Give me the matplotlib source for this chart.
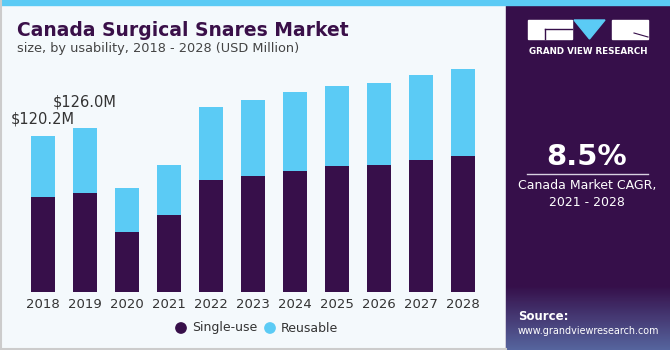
import numpy as np
import matplotlib.pyplot as plt
from matplotlib.patches import Rectangle, Polygon
from matplotlib.colors import LinearSegmentedColormap

years = ['2018', '2019', '2020', '2021', '2022', '2023', '2024', '2025', '2026', '2027', '2028']
single_use = [72.9, 76.5, 46.4, 59.3, 86.5, 89.4, 93.5, 96.8, 97.8, 101.9, 104.8]
totals = [120.2, 126.0, 80.1, 98.1, 142.8, 148.2, 153.8, 158.7, 160.7, 167.4, 171.5]
reusable = [t - s for t, s in zip(totals, single_use)]
labels = {0: '$120.2M', 1: '$126.0M'}

dark = '#370F4A'
cyan = '#5BCBF5'
bg = '#F4F9FC'

W, H = 670, 350
fig = plt.figure(figsize=(6.7, 3.5), dpi=100)
fig.patch.set_facecolor(bg)

# axes placed in pixel terms: baseline at y=292, bars 42px apart
ax = fig.add_axes([20 / W, 1 - 292 / H, (486 - 20) / W, (292 - 60) / H])
ax.set_facecolor(bg)
x = np.arange(len(years))
ax.bar(x, single_use, width=0.57, color=dark, zorder=2)
ax.bar(x, reusable, bottom=single_use, width=0.57, color=cyan, zorder=2)
ax.set_xlim(-0.55, 10.55)
ax.set_ylim(0, 232 / 1.298)
ax.set_xticks(x)
ax.set_xticklabels(years, fontsize=9.5, color='#333333')
ax.tick_params(axis='x', length=0, pad=4)
ax.set_yticks([])
for s in ax.spines.values():
    s.set_visible(False)

# value labels (the second one sits higher in the original)
lift = {0: 7.5, 1: 14.5}
for i, txt in labels.items():
    ax.text(i, totals[i] + lift[i], txt, ha='center', va='bottom',
            fontsize=10.5, color='#333333')

# title
fig.text(17 / W, 1 - 36 / H, 'Canada Surgical Snares Market', fontsize=13.5,
         fontweight='bold', color='#3A1049')
fig.text(17 / W, 1 - 52 / H, 'size, by usability, 2018 - 2028 (USD Million)',
         fontsize=9.3, color='#444444')

# frame axes over the whole figure, pixel coordinates
frame = fig.add_axes([0, 0, 1, 1], facecolor='none')
frame.set_xlim(0, W)
frame.set_ylim(H, 0)
frame.axis('off')

# legend
frame.scatter([181, 270], [328, 328], s=55, c=[dark, cyan], zorder=3)
frame.text(192, 328, 'Single-use', fontsize=9, color='#333333', va='center')
frame.text(281, 328, 'Reusable', fontsize=9, color='#333333', va='center')

# right panel
frame.add_patch(Rectangle((506, 0), W - 506, H, color='#360F4A', zorder=1))
grad = np.linspace(0, 1, 60).reshape(-1, 1)
frame.imshow(grad, extent=(506, W, H, 285), aspect='auto', zorder=2,
             cmap=LinearSegmentedColormap.from_list('g', ['#360F4A', '#5A6FA8']),
             alpha=0.9)
frame.set_xlim(0, W)
frame.set_ylim(H, 0)

# logo
frame.add_patch(Rectangle((528, 20), 44, 19, color='white', zorder=3))
frame.add_patch(Polygon([[574, 20], [605, 20], [589.5, 39]], color=cyan, zorder=3))
frame.add_patch(Rectangle((612, 20), 36, 19, color='white', zorder=3))
frame.plot([545, 572], [29, 29], color='#360F4A', lw=1, zorder=4)
frame.plot([545, 545], [29, 39], color='#360F4A', lw=1, zorder=4)
frame.plot([634, 648], [33, 37], color='#360F4A', lw=0.8, zorder=4)
frame.text(588, 51, 'GRAND VIEW RESEARCH', ha='center', va='center', fontsize=6.3,
           fontweight='bold', color='white', zorder=3)

frame.text(587, 157, '8.5%', ha='center', va='center', fontsize=21,
           fontweight='bold', color='white', zorder=3)
frame.plot([527, 648], [173.5, 173.5], color='#D8D0E0', lw=1, zorder=3)
frame.text(587, 186, 'Canada Market CAGR,', ha='center', va='center', fontsize=9,
           color='white', zorder=3)
frame.text(587, 202, '2021 - 2028', ha='center', va='center', fontsize=9,
           color='white', zorder=3)
frame.text(518, 316, 'Source:', ha='left', va='center', fontsize=8.5,
           fontweight='bold', color='white', zorder=3)
frame.text(518, 331, 'www.grandviewresearch.com', ha='left', va='center', fontsize=6.9,
           color='white', zorder=3)

# top cyan strip, left/bottom grey border
frame.add_patch(Rectangle((0, 0), W, 5, color=cyan, zorder=5))
frame.plot([0.5, 0.5], [0, H], color='#CCCCCC', lw=1.5, zorder=5)
frame.plot([0, 506], [H - 1, H - 1], color='#CCCCCC', lw=1.5, zorder=5)

fig.savefig('out.png', dpi=100, facecolor=bg)
